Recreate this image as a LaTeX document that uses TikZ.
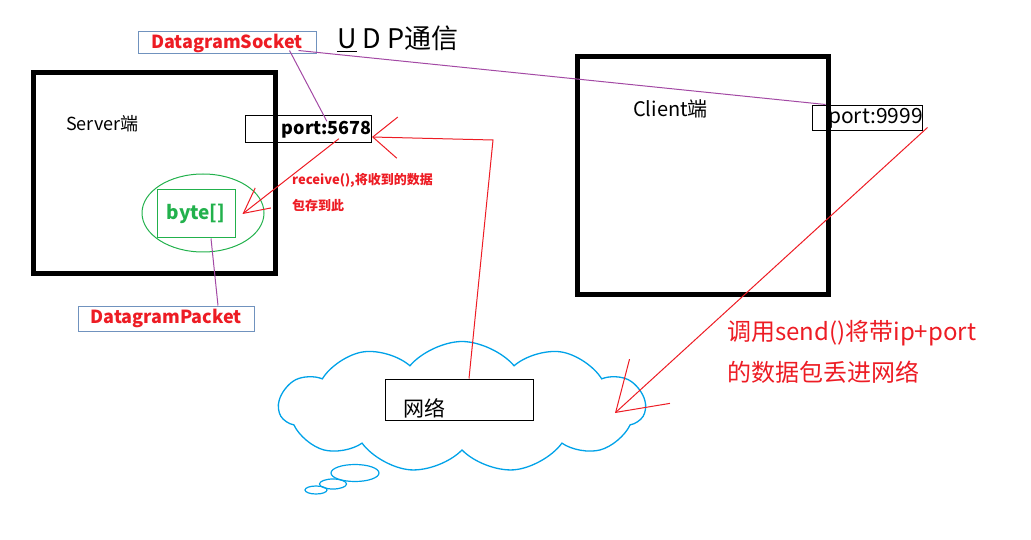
\documentclass[tikz,border=0pt]{standalone}
\usepackage{fontspec}
\setmainfont{Noto Sans CJK SC}
\usetikzlibrary{shapes.symbols,arrows.meta}
\definecolor{udpred}{RGB}{237,28,36}
\definecolor{tagblue}{RGB}{112,146,190}
\definecolor{bytegreen}{RGB}{34,177,76}
\definecolor{linkpurple}{RGB}{163,73,164}
\definecolor{cloudblue}{RGB}{0,162,232}
\begin{document}
\begin{tikzpicture}[x=1pt, y=-1pt,
    tag/.style={draw=tagblue, line width=1pt, text=udpred, font=\bfseries\fontsize{18}{20}\selectfont, inner sep=0pt},
    host/.style={draw, line width=5pt, inner sep=0pt},
    portbox/.style={draw, line width=1pt, inner sep=0pt},
    plain/.style={inner sep=0pt},
    sig/.style={udpred, line width=1pt},
    link/.style={linkpurple, line width=1pt}]
    \useasboundingbox (0,0) rectangle (1031,540);
    \node[plain, anchor=base west, font=\fontsize{27}{30}\selectfont] (title) at (337,49) {\underline{U}\hspace{6pt}D\hspace{6pt}P通信};
    \node[tag, minimum width=178pt, minimum height=22pt] (socket) at (227,43) {DatagramSocket};
    \node[tag, minimum width=176pt, minimum height=25pt] (packet) at (166,318.5) {DatagramPacket};
    \node[host, minimum width=242pt, minimum height=200pt] (server) at (154,173) {};
    \node[plain, anchor=west, font=\fontsize{18}{20}\selectfont] (sname) at (66,124) {Server端};
    \node[host, minimum width=251pt, minimum height=237pt] (client) at (702.5,175.5) {};
    \node[plain, anchor=west, font=\fontsize{20}{22}\selectfont] (cname) at (633,109) {Client端};
    \node[portbox, minimum width=126pt, minimum height=27pt] (sbox) at (308,129.5) {};
    \node[plain, anchor=east, font=\bfseries\fontsize{18}{20}\selectfont] (sport) at (372,130) {port:5678};
    \node[portbox, minimum width=110pt, minimum height=25pt] (cbox) at (867,118.5) {};
    \node[plain, anchor=east, font=\fontsize{21}{23}\selectfont] (cport) at (923,118) {port:9999};
    \draw[bytegreen, line width=1pt] (203,213) ellipse [x radius=61pt, y radius=39pt];
    \node[draw=bytegreen, line width=1pt, text=bytegreen, font=\bfseries\fontsize{19}{21}\selectfont, minimum width=78pt, minimum height=48pt] (bytes) at (196,214) {byte[]};
    \node[plain, anchor=north west, align=left, text=udpred, font=\bfseries\fontsize{13}{26}\selectfont] (recv) at (292,173) {receive(),将收到的数据\\包存到此};
    \node[cloud, draw=cloudblue, line width=1.3pt, cloud puffs=11, cloud puff arc=100, aspect=2.8, minimum width=366pt, minimum height=131pt, inner sep=0pt] (web) at (462,407) {};
    \draw[cloudblue, line width=1.2pt] (355,473) ellipse [x radius=24pt, y radius=8.5pt];
    \draw[cloudblue, line width=1.2pt] (333,484) ellipse [x radius=13.5pt, y radius=5pt];
    \draw[cloudblue, line width=1.2pt] (316,490) ellipse [x radius=11pt, y radius=4pt];
    \node[portbox, fill=white, minimum width=148pt, minimum height=41pt] (net) at (459,399.5) {};
    \node[plain, font=\fontsize{21}{23}\selectfont] (netname) at (424,408) {网络};
    \node[plain, anchor=north west, align=left, text=udpred, font=\fontsize{24}{41}\selectfont] (send) at (727,320) {调用send()将带ip+port\\的数据包丢进网络};
    \coordinate (turn) at (493,140);
    \coordinate (drop) at (615,413);
    \draw[sig, -{Straight Barb[angle=80:32pt]}] ([xshift=10pt]net.north) -- (turn) -- ([yshift=-7pt]sport.east);
    \draw[sig, -{Straight Barb[angle=54:28pt]}] ([xshift=12pt]sport.south) -- ([xshift=7pt]bytes.east);
    \draw[sig, -{Straight Barb[angle=66:55pt]}] ([xshift=5pt,yshift=4pt]cbox.south east) -- (drop);
    \draw[link] ([xshift=-27pt,yshift=4pt]socket.south east) -- (sport.north);
    \draw[link] ([xshift=-18pt,yshift=4pt]socket.south east) -- ([xshift=14pt,yshift=1pt]cbox.north west);
    \draw[link] ([xshift=15pt]bytes.south) -- ([xshift=52pt]packet.north);
\end{tikzpicture}
\end{document}
